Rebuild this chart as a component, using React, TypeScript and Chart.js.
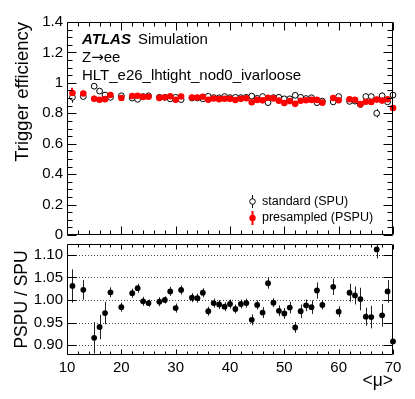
import React, { useEffect, useRef } from 'react';
import { Chart, registerables } from 'chart.js';
Chart.register(...registerables);

const FONT = "'Liberation Sans', Arial, Helvetica, sans-serif";

// <mu> bin centres
const mu = [11, 13, 15, 16, 17, 18, 20, 22, 23, 24, 25, 27, 28, 29, 30, 31, 33, 34, 35, 36, 37, 38, 39, 40, 41, 42, 43, 44, 45, 46, 47, 48, 49, 50, 51, 52, 53, 54, 55, 56, 57, 59, 60, 62, 63, 64, 65, 66, 67, 68, 69, 70];

// standard pile-up (SPU) efficiency
const spu = [0.905, 0.910, 0.978, 0.946, 0.920, 0.905, 0.915, 0.900, 0.892, 0.910, 0.915, 0.905, 0.905, 0.895, 0.905, 0.890, 0.900, 0.900, 0.895, 0.912, 0.903, 0.902, 0.910, 0.903, 0.905, 0.903, 0.905, 0.913, 0.898, 0.910, 0.870, 0.903, 0.905, 0.895, 0.895, 0.918, 0.905, 0.897, 0.902, 0.870, 0.880, 0.875, 0.910, 0.878, 0.880, 0.858, 0.910, 0.910, 0.800, 0.915, 0.875, 0.920];
const spuErr = [0.035, 0.015, 0.020, 0.015, 0.012, 0.008, 0.006, 0.006, 0.006, 0.006, 0.006, 0.006, 0.006, 0.006, 0.006, 0.006, 0.006, 0.006, 0.006, 0.006, 0.006, 0.006, 0.006, 0.006, 0.006, 0.006, 0.006, 0.006, 0.006, 0.006, 0.006, 0.006, 0.006, 0.006, 0.006, 0.006, 0.006, 0.006, 0.008, 0.010, 0.010, 0.010, 0.010, 0.015, 0.015, 0.015, 0.015, 0.015, 0.027, 0.020, 0.020, 0.020];

// presampled pile-up (PSPU) efficiency
const pspu = [0.933, 0.930, 0.896, 0.889, 0.893, 0.920, 0.900, 0.914, 0.915, 0.907, 0.909, 0.901, 0.905, 0.912, 0.889, 0.910, 0.904, 0.904, 0.909, 0.889, 0.897, 0.893, 0.896, 0.895, 0.887, 0.895, 0.899, 0.873, 0.888, 0.885, 0.902, 0.898, 0.883, 0.868, 0.880, 0.862, 0.882, 0.886, 0.888, 0.888, 0.870, 0.900, 0.886, 0.892, 0.889, 0.860, 0.876, 0.875, 0.890, 0.884, 0.892, 0.835];
const pspuErr = [0.035, 0.015, 0.020, 0.015, 0.012, 0.008, 0.006, 0.006, 0.006, 0.006, 0.006, 0.006, 0.006, 0.006, 0.006, 0.006, 0.006, 0.006, 0.006, 0.006, 0.006, 0.006, 0.006, 0.006, 0.006, 0.006, 0.006, 0.006, 0.006, 0.006, 0.006, 0.006, 0.006, 0.006, 0.006, 0.006, 0.006, 0.006, 0.008, 0.010, 0.010, 0.010, 0.010, 0.015, 0.015, 0.018, 0.015, 0.015, 0.018, 0.020, 0.020, 0.022];

// PSPU / SPU ratio
const ratio = [1.031, 1.0225, 0.916, 0.940, 0.971, 1.017, 0.984, 1.015, 1.026, 0.997, 0.993, 0.996, 1.000, 1.019, 0.982, 1.022, 1.005, 1.004, 1.016, 0.975, 0.993, 0.990, 0.985, 0.991, 0.980, 0.991, 0.993, 0.956, 0.989, 0.972, 1.037, 0.994, 0.976, 0.970, 0.983, 0.939, 0.975, 0.988, 0.984, 1.021, 0.989, 1.029, 0.974, 1.016, 1.010, 1.002, 0.963, 0.962, 1.112, 0.966, 1.019, 0.908];
const ratioErr = [0.037, 0.022, 0.035, 0.027, 0.025, 0.011, 0.010, 0.010, 0.010, 0.010, 0.008, 0.010, 0.008, 0.010, 0.010, 0.010, 0.010, 0.010, 0.010, 0.010, 0.010, 0.010, 0.010, 0.010, 0.010, 0.010, 0.010, 0.012, 0.010, 0.012, 0.012, 0.010, 0.012, 0.012, 0.013, 0.012, 0.015, 0.013, 0.015, 0.018, 0.010, 0.018, 0.012, 0.020, 0.020, 0.025, 0.020, 0.025, 0.020, 0.025, 0.025, 0.030];

const xTickLabels = [10, 20, 30, 40, 50, 60, 70];
const effTickLabels = [0, 0.2, 0.4, 0.6, 0.8, 1.0, 1.2, 1.4];
const ratioTickLabels = [0.9, 0.95, 1.0, 1.05, 1.1];

const W = 415;
const TOP_H = 240;
const BOT_H = 159;

function range(a: number, b: number, step: number): number[] {
  const out: number[] = [];
  const n = Math.round((b - a) / step);
  for (let i = 0; i <= n; i++) out.push(+(a + i * step).toFixed(6));
  return out;
}

function framePlugin(o: { yMajor: number[]; yMinor: number[]; xMajLen: number; xMinLen: number; yMajLen: number; yMinLen: number; grid?: number[] }) {
  return {
    id: 'frame',
    beforeDatasetsDraw(chart: any) {
      if (!o.grid) return;
      const { ctx, chartArea: a } = chart;
      const ys = chart.scales.y;
      ctx.save();
      ctx.strokeStyle = '#444';
      ctx.lineWidth = 1;
      ctx.setLineDash([1, 2]);
      o.grid.forEach((v) => {
        const y = Math.round(ys.getPixelForValue(v)) + 0.5;
        ctx.beginPath();
        ctx.moveTo(a.left, y);
        ctx.lineTo(a.right, y);
        ctx.stroke();
      });
      ctx.restore();
    },
    afterDraw(chart: any) {
      const { ctx, chartArea: a } = chart;
      const xs = chart.scales.x;
      const ys = chart.scales.y;
      ctx.save();
      ctx.strokeStyle = '#000';
      ctx.lineWidth = 1;
      const L = Math.round(a.left) + 0.5;
      const R = Math.round(a.right) - 0.5;
      const T = Math.round(a.top) + 0.5;
      const B = Math.round(a.bottom) - 0.5;
      ctx.beginPath();
      ctx.rect(L, T, R - L, B - T);
      ctx.stroke();
      ctx.beginPath();
      range(10, 70, 2).forEach((v) => {
        const len = v % 10 === 0 ? o.xMajLen : o.xMinLen;
        const x = Math.round(xs.getPixelForValue(v)) + 0.5;
        ctx.moveTo(x, B);
        ctx.lineTo(x, B - len);
        ctx.moveTo(x, T);
        ctx.lineTo(x, T + len);
      });
      const drawY = (v: number, len: number) => {
        const y = Math.round(ys.getPixelForValue(v)) + 0.5;
        ctx.moveTo(L, y);
        ctx.lineTo(L + len, y);
        ctx.moveTo(R, y);
        ctx.lineTo(R - len, y);
      };
      o.yMinor.forEach((v) => drawY(v, o.yMinLen));
      o.yMajor.forEach((v) => drawY(v, o.yMajLen));
      ctx.stroke();
      ctx.restore();
    },
  };
}

function errorPlugin(specs: { ds: number; errs: number[]; values: number[]; color: string; width: number }[]) {
  return {
    id: 'errbars',
    beforeDatasetsDraw(chart: any) {
      const { ctx, chartArea: a } = chart;
      const ys = chart.scales.y;
      ctx.save();
      ctx.beginPath();
      ctx.rect(a.left, a.top, a.right - a.left, a.bottom - a.top);
      ctx.clip();
      specs.forEach((s) => {
        const meta = chart.getDatasetMeta(s.ds);
        ctx.strokeStyle = s.color;
        ctx.lineWidth = s.width;
        meta.data.forEach((pt: any, i: number) => {
          const y1 = ys.getPixelForValue(s.values[i] + s.errs[i]);
          const y2 = ys.getPixelForValue(s.values[i] - s.errs[i]);
          const x = Math.round(pt.x) + (s.width % 2 === 1 ? 0.5 : 0);
          ctx.beginPath();
          ctx.moveTo(x, y1);
          ctx.lineTo(x, y2);
          ctx.stroke();
        });
      });
      ctx.restore();
    },
  };
}

const textPlugin = {
  id: 'texts',
  afterDraw(chart: any) {
    const { ctx } = chart;
    ctx.save();
    ctx.fillStyle = '#000';
    ctx.textBaseline = 'alphabetic';
    ctx.textAlign = 'left';
    ctx.font = `bold italic 15px ${FONT}`;
    ctx.fillText('ATLAS', 82, 44);
    const w = ctx.measureText('ATLAS').width;
    ctx.font = `15px ${FONT}`;
    ctx.fillText('Simulation', 82 + w + 7, 44);
    // Z -> ee
    ctx.fillText('Z', 82, 62);
    let xx = 82 + ctx.measureText('Z').width;
    ctx.font = `15px 'DejaVu Sans', sans-serif`;
    ctx.fillText('\u2192', xx, 62);
    xx += ctx.measureText('\u2192').width;
    ctx.font = `15px ${FONT}`;
    ctx.fillText('ee', xx, 62);
    ctx.fillText('HLT_e26_lhtight_nod0_ivarloose', 82, 80);

    // legend
    ctx.font = `12.5px ${FONT}`;
    ctx.textBaseline = 'middle';
    ctx.fillText('standard (SPU)', 262, 201.5);
    ctx.fillText('presampled (PSPU)', 262, 218);
    ctx.strokeStyle = '#000';
    ctx.lineWidth = 1;
    ctx.beginPath();
    ctx.moveTo(252.5, 195);
    ctx.lineTo(252.5, 208);
    ctx.stroke();
    ctx.beginPath();
    ctx.arc(252.5, 201.5, 2.8, 0, Math.PI * 2);
    ctx.fillStyle = '#fff';
    ctx.fill();
    ctx.stroke();
    ctx.strokeStyle = '#ff0000';
    ctx.lineWidth = 2;
    ctx.beginPath();
    ctx.moveTo(252.5, 211);
    ctx.lineTo(252.5, 225);
    ctx.stroke();
    ctx.fillStyle = '#ff0000';
    ctx.beginPath();
    ctx.arc(252.5, 218, 3.2, 0, Math.PI * 2);
    ctx.fill();
    ctx.restore();
  },
};

function fixY(width: number) {
  return (scale: any) => {
    scale.width = width;
    scale.paddingTop = 0;
    scale.paddingBottom = 0;
  };
}
function fixX(height: number) {
  return (scale: any) => {
    scale.height = height;
    scale.paddingLeft = 0;
    scale.paddingRight = 0;
  };
}

export default function App() {
  const topRef = useRef<HTMLCanvasElement>(null);
  const botRef = useRef<HTMLCanvasElement>(null);

  useEffect(() => {
    document.body.style.margin = '0';
    Chart.defaults.font.family = FONT;
    Chart.defaults.color = '#000';

    const top = new Chart(topRef.current!, {
      type: 'scatter',
      data: {
        datasets: [
          {
            label: 'presampled (PSPU)',
            data: mu.map((m, i) => ({ x: m, y: pspu[i] })),
            backgroundColor: '#ff0000',
            borderWidth: 0,
            pointRadius: 3.3,
            order: 0,
            clip: false,
          },
          {
            label: 'standard (SPU)',
            data: mu.map((m, i) => ({ x: m, y: spu[i] })),
            backgroundColor: '#ffffff',
            borderColor: '#000000',
            borderWidth: 1,
            pointRadius: 2.9,
            order: 1,
            clip: false,
          },
        ],
      },
      options: {
        animation: false,
        responsive: false,
        maintainAspectRatio: false,
        layout: { padding: { top: 22, right: 22, left: 0, bottom: 0 } },
        plugins: { legend: { display: false }, tooltip: { enabled: false } },
        scales: {
          x: {
            type: 'linear',
            min: 10,
            max: 70,
            ticks: { display: false, stepSize: 10 },
            grid: { display: false, drawTicks: false },
            border: { display: false },
            afterFit: fixX(3),
          },
          y: {
            type: 'linear',
            min: 0,
            max: 1.4,
            afterBuildTicks: (s: any) => {
              s.ticks = effTickLabels.map((v) => ({ value: v }));
            },
            ticks: {
              padding: 4,
              font: { size: 15 },
              callback: (v: any) => String(+Number(v).toFixed(1)),
            },
            grid: { display: false, drawTicks: false },
            border: { display: false },
            title: {
              display: true,
              text: 'Trigger efficiency',
              align: 'end',
              font: { size: 18.5 },
              padding: { top: 12, bottom: 0 },
            },
            afterFit: fixY(67),
          },
        },
      },
      plugins: [
        framePlugin({ yMajor: effTickLabels, yMinor: range(0, 1.4, 0.05), xMajLen: 8, xMinLen: 4, yMajLen: 9, yMinLen: 5 }),
        errorPlugin([
          { ds: 1, errs: spuErr, values: spu, color: '#000', width: 1 },
          { ds: 0, errs: pspuErr, values: pspu, color: '#ff0000', width: 2 },
        ]),
        textPlugin,
      ],
    } as any);

    const bot = new Chart(botRef.current!, {
      type: 'scatter',
      data: {
        datasets: [
          {
            label: 'PSPU / SPU',
            data: mu.map((m, i) => ({ x: m, y: ratio[i] })),
            backgroundColor: '#000',
            borderWidth: 0,
            pointRadius: 2.9,
            clip: false,
          },
        ],
      },
      options: {
        animation: false,
        responsive: false,
        maintainAspectRatio: false,
        layout: { padding: { top: 2, right: 22, left: 0, bottom: 0 } },
        plugins: { legend: { display: false }, tooltip: { enabled: false } },
        scales: {
          x: {
            type: 'linear',
            min: 10,
            max: 70,
            afterBuildTicks: (s: any) => {
              s.ticks = xTickLabels.map((v) => ({ value: v }));
            },
            ticks: { padding: 4, font: { size: 15 }, maxRotation: 0 },
            grid: { display: false, drawTicks: false },
            border: { display: false },
            title: {
              display: true,
              text: '<\u03bc>',
              align: 'end',
              font: { size: 17.5 },
              padding: { top: 0, bottom: 7 },
            },
            afterFit: fixX(44),
          },
          y: {
            type: 'linear',
            min: 0.878,
            max: 1.124,
            afterBuildTicks: (s: any) => {
              s.ticks = ratioTickLabels.map((v) => ({ value: v }));
            },
            ticks: {
              padding: 4,
              font: { size: 15 },
              callback: (v: any) => Number(v).toFixed(2),
            },
            grid: { display: false, drawTicks: false },
            border: { display: false },
            title: {
              display: true,
              text: 'PSPU / SPU',
              align: 'center',
              font: { size: 17.5 },
              padding: { top: 12, bottom: 0 },
            },
            afterFit: fixY(67),
          },
        },
      },
      plugins: [
        framePlugin({ yMajor: ratioTickLabels, yMinor: [], xMajLen: 5, xMinLen: 3, yMajLen: 9, yMinLen: 4, grid: ratioTickLabels }),
        errorPlugin([{ ds: 0, errs: ratioErr, values: ratio, color: '#222', width: 1 }]),
      ],
    } as any);

    return () => {
      top.destroy();
      bot.destroy();
    };
  }, []);

  return (
    <div style={{ position: 'relative', width: W, height: TOP_H + BOT_H, background: '#fff' }}>
      <canvas ref={topRef} width={W} height={TOP_H} style={{ position: 'absolute', left: 0, top: 0, width: W, height: TOP_H }} />
      <canvas ref={botRef} width={W} height={BOT_H} style={{ position: 'absolute', left: 0, top: TOP_H, width: W, height: BOT_H }} />
    </div>
  );
}
